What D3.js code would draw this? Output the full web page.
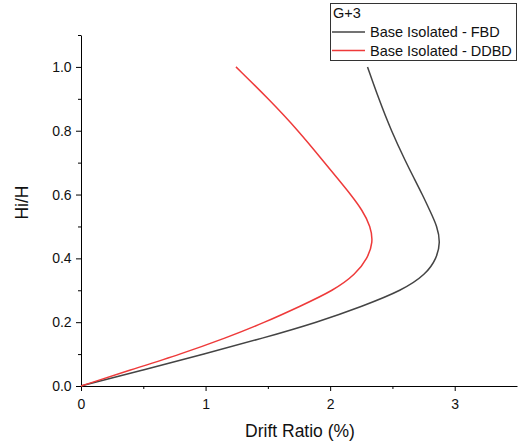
<!DOCTYPE html>
<html>
<head>
<meta charset="utf-8">
<script src="https://cdn.jsdelivr.net/npm/d3@7"></script>
<style>
    body { margin: 0; background: #fff; }
    text { font-family: "Liberation Sans", Arial, sans-serif; fill: #111; }
</style>
</head>
<body>
<div id="chart"></div>
<script>

// normalised height Hi/H and drift ratio (%) of each curve
var heights = [0, 0.05, 0.10, 0.15, 0.20, 0.25, 0.30, 0.35, 0.40, 0.45, 0.50, 0.55, 0.60, 0.65, 0.70, 0.80, 0.90, 1.00];
var fbdDrift = [0, 0.50, 0.99, 1.46, 1.90, 2.26, 2.58, 2.77, 2.855, 2.885, 2.86, 2.80, 2.74, 2.675, 2.61, 2.49, 2.39, 2.30];
var ddbdDrift = [0, 0.395, 0.80, 1.16, 1.48, 1.76, 2.03, 2.205, 2.30, 2.345, 2.325, 2.26, 2.165, 2.06, 1.955, 1.745, 1.505, 1.244];

var seriesNames = ["Base Isolated - FBD", "Base Isolated - DDBD"];
var legendTitle = "G+3";

var xMajor = [0, 1, 2, 3];
var xMinor = [0.5, 1.5, 2.5];
var yMajor = [0, 0.2, 0.4, 0.6, 0.8, 1.0];
var yMinor = [0.1, 0.3, 0.5, 0.7, 0.9, 1.1];

var colors = ["#444444", "#ee3a3a"];

/*
 *  Chart setup
 */

var margin = { top: 35, right: 2, bottom: 60, left: 81 };
var width = 519 - margin.left - margin.right;
var height = 446 - margin.top - margin.bottom;

var svg = d3.select("#chart").append("svg")
    .attr("width", 519)
    .attr("height", 446);

var g = svg.append("g")
    .attr("transform", "translate(" + margin.left + "," + margin.top + ")");

var x = d3.scaleLinear().domain([0, 3.5]).range([0, 436]);
var y = d3.scaleLinear().domain([0, 1.1]).range([height, 0]);

// axes
var xAxis = g.append("g")
    .attr("transform", "translate(0," + height + ")")
    .call(d3.axisBottom(x).tickValues(xMajor).tickFormat(d3.format("d")).tickSize(5).tickSizeOuter(0));

g.append("g")
    .attr("transform", "translate(0," + height + ")")
    .call(d3.axisBottom(x).tickValues(xMinor).tickFormat("").tickSize(3).tickSizeOuter(0))
    .select(".domain").remove();

var yAxis = g.append("g")
    .call(d3.axisLeft(y).tickValues(yMajor).tickFormat(d3.format(".1f")).tickSize(5).tickSizeOuter(0));

g.append("g")
    .call(d3.axisLeft(y).tickValues(yMinor).tickFormat("").tickSize(3).tickSizeOuter(0))
    .select(".domain").remove();

g.selectAll(".tick text")
    .style("font-size", "14px")
    .style("font-family", "Liberation Sans, Arial, sans-serif")
    .attr("fill", "#111");

xAxis.selectAll(".tick text").attr("dy", "1.05em");
yAxis.selectAll(".tick text").attr("dx", "-0.1em");

g.selectAll(".domain, .tick line").attr("stroke", "#000").attr("stroke-width", 1);

// axis titles
g.append("text")
    .attr("x", width / 2 + 1)
    .attr("y", height + 51)
    .attr("text-anchor", "middle")
    .style("font-size", "17.5px")
    .text("Drift Ratio (%)");

g.append("text")
    .attr("transform", "translate(-53," + (height / 2 - 8) + ") rotate(-90)")
    .attr("text-anchor", "middle")
    .style("font-size", "17.5px")
    .text("Hi/H");

// curves (smoothed like the original spline plot)
var line = d3.line()
    .x(function(d) { return x(d[0]); })
    .y(function(d) { return y(d[1]); })
    .curve(d3.curveBasis);

var series = [
    d3.zip(fbdDrift, heights),
    d3.zip(ddbdDrift, heights)
];

g.selectAll(".curve")
    .data(series)
    .enter().append("path")
    .attr("class", "curve")
    .attr("d", line)
    .attr("fill", "none")
    .attr("stroke", function(d, i) { return colors[i]; })
    .attr("stroke-width", 1.5);

// legend
var legend = svg.append("g").attr("transform", "translate(330,3)");

legend.append("rect")
    .attr("x", 0.5)
    .attr("y", 0.5)
    .attr("width", 186)
    .attr("height", 57)
    .attr("fill", "#fff")
    .attr("stroke", "#333")
    .attr("stroke-width", 1);

legend.append("text")
    .attr("x", 3)
    .attr("y", 15)
    .style("font-size", "14.5px")
    .text(legendTitle);

seriesNames.forEach(function(name, i) {
    var ly = 29 + i * 18.5;
    legend.append("line")
        .attr("x1", 2).attr("x2", 35)
        .attr("y1", ly).attr("y2", ly)
        .attr("stroke", colors[i])
        .attr("stroke-width", 1.5);
    legend.append("text")
        .attr("x", 40)
        .attr("y", ly + 5)
        .style("font-size", "14.5px")
        .text(name);
});

</script>
</body>
</html>
